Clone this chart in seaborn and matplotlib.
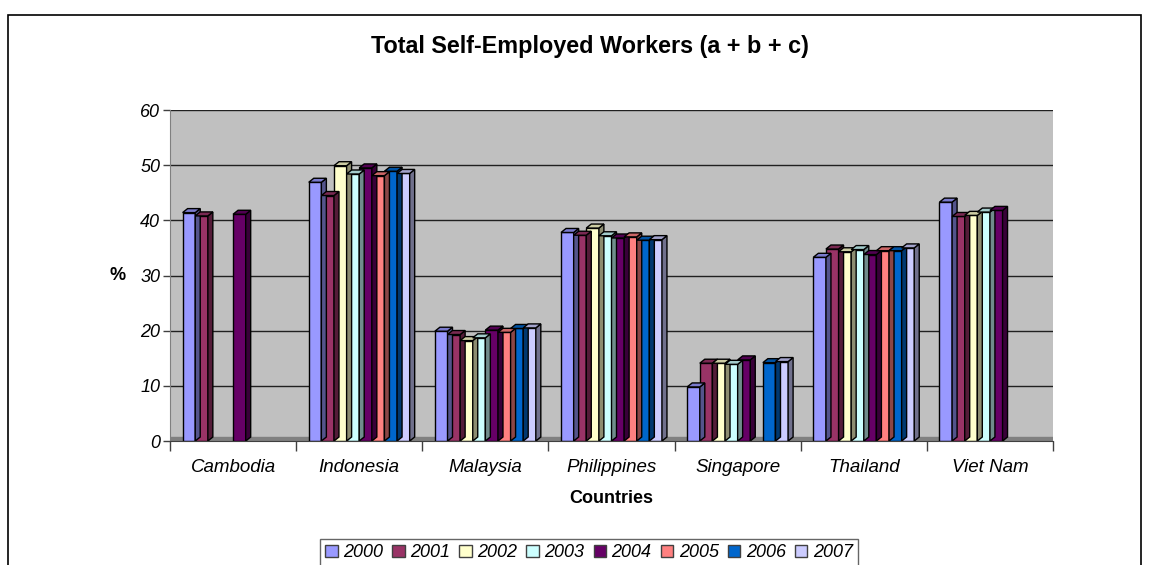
import numpy as np
import pandas as pd
import matplotlib
matplotlib.use("Agg")
import matplotlib.pyplot as plt
import matplotlib.colors as mcolors
from matplotlib.patches import Polygon, Rectangle
import seaborn as sns

countries = ["Cambodia", "Indonesia", "Malaysia", "Philippines", "Singapore", "Thailand", "Viet Nam"]
years = ["2000", "2001", "2002", "2003", "2004", "2005", "2006", "2007"]
nan = np.nan
y2000 = [41.4, 46.9, 19.9, 37.8, 9.8, 33.3, 43.3]
y2001 = [40.8, 44.5, 19.3, 37.3, 14.1, 34.8, 40.7]
y2002 = [nan, 49.9, 18.2, 38.6, 14.1, 34.3, 40.9]
y2003 = [nan, 48.4, 18.7, 37.2, 13.9, 34.7, 41.5]
y2004 = [41.1, 49.5, 20.1, 36.8, 14.7, 33.8, 41.8]
y2005 = [nan, 48.1, 19.7, 37.0, nan, 34.5, nan]
y2006 = [nan, 48.9, 20.4, 36.4, 14.2, 34.5, nan]
y2007 = [nan, 48.5, 20.5, 36.5, 14.4, 35.0, nan]
series = [y2000, y2001, y2002, y2003, y2004, y2005, y2006, y2007]
colors = ["#9999FF", "#993366", "#FFFFCC", "#CCFFFF", "#660066", "#FF8080", "#0066CC", "#CCCCFF"]
yticks = [0, 10, 20, 30, 40, 50, 60]

rows = []
for yr, vals in zip(years, series):
    for c, v in zip(countries, vals):
        rows.append({"Country": c, "Year": yr, "Value": v})
df = pd.DataFrame(rows)

sns.set_style("white")
plt.rcParams["font.family"] = ["Liberation Sans", "DejaVu Sans"]
plt.rcParams["text.color"] = "black"
plt.rcParams["axes.labelcolor"] = "black"
plt.rcParams["xtick.color"] = "black"
plt.rcParams["ytick.color"] = "black"

W, H = 1150, 565
fig = plt.figure(figsize=(W / 100, H / 100), dpi=100)
ax_l, ax_r, ax_b, ax_t = 170, 1053, 441, 110
ax = fig.add_axes([ax_l / W, (H - ax_b) / H, (ax_r - ax_l) / W, (ax_b - ax_t) / H])
ax.set_facecolor("#C0C0C0")

palette = dict(zip(years, colors))
sns.barplot(data=df, x="Country", y="Value", hue="Year", order=countries, hue_order=years,
            palette=palette, width=0.8, gap=0, dodge=True, saturation=1,
            edgecolor="black", linewidth=1, ax=ax, legend=True, err_kws={"linewidth": 0})

ax.set_xlim(-0.5, len(countries) - 0.5)
ax.set_ylim(yticks[0], yticks[-1])

# pseudo-3D faces derived from the bar geometry
px_x = (ax_r - ax_l) / (len(countries))
px_y = (ax_b - ax_t) / (yticks[-1] - yticks[0])
dx = 5.0 / px_x
dy = 4.0 / px_y
bars = [p for p in ax.patches if isinstance(p, Rectangle) and np.isfinite(p.get_height()) and p.get_height() > 0]
for p in bars:
    x0 = p.get_x(); w = p.get_width(); h = p.get_height()
    fc = np.array(mcolors.to_rgb(p.get_facecolor()))
    z = 2 + x0 * 0.01
    p.set_zorder(z)
    side = Polygon([(x0 + w, 0), (x0 + w + dx, dy), (x0 + w + dx, h + dy), (x0 + w, h)],
                   closed=True, facecolor=fc * 0.55, edgecolor="black", linewidth=1, zorder=z + 0.005)
    top = Polygon([(x0, h), (x0 + dx, h + dy), (x0 + w + dx, h + dy), (x0 + w, h)],
                  closed=True, facecolor=fc * 0.8, edgecolor="black", linewidth=1, zorder=z + 0.005)
    ax.add_patch(side)
    ax.add_patch(top)

# floor strip
ax.axhspan(0, dy * 0.9, color="#808080", zorder=1)

ax.set_yticks(yticks)
ax.set_yticklabels([str(t) for t in yticks], fontsize=13, fontstyle="italic")
ax.yaxis.grid(True, color="#202020", linewidth=1)
ax.set_axisbelow(True)
ax.tick_params(axis="y", left=True, length=5, width=1, color="#404040", pad=2)
ax.set_xticks(range(len(countries)))
ax.set_xticklabels(countries, fontsize=13.5, fontstyle="italic")
ax.set_xticks(np.arange(-0.5, len(countries)), minor=True)
ax.tick_params(axis="x", which="major", length=0, pad=13)
ax.tick_params(axis="x", which="minor", length=7, width=1, color="#404040", bottom=True)
for s in ["top", "right"]:
    ax.spines[s].set_visible(False)
ax.spines["left"].set_color("#808080")
ax.spines["bottom"].set_color("#404040")

ax.set_xlabel("Countries", fontsize=13, fontweight="bold", labelpad=10)
ax.set_ylabel("%", fontsize=13, fontweight="bold", rotation=0, labelpad=16, va="center")

fig.text(590 / W, (H - 47) / H, "Total Self-Employed Workers (a + b + c)", ha="center", va="center",
         fontsize=16.8, fontweight="bold")

handles, labels = ax.get_legend_handles_labels()
ax.get_legend().remove()
leg = fig.legend(handles, labels, loc="upper center", bbox_to_anchor=(589 / W, (H - 539) / H),
                 borderaxespad=0, ncol=8, frameon=True, fancybox=False, handlelength=0.7, handleheight=0.7,
                 handletextpad=0.3, columnspacing=0.5, borderpad=0.3, prop={"style": "italic", "size": 13})
leg.get_frame().set_edgecolor("#404040")
leg.get_frame().set_linewidth(1)
for hnd in leg.legend_handles:
    hnd.set_edgecolor("#404040")
    hnd.set_linewidth(1)

fig.patches.append(Rectangle((8 / W, -0.02), (1141 - 8) / W, (H - 15) / H + 0.02, transform=fig.transFigure,
                             fill=False, edgecolor="black", linewidth=1.2))

fig.savefig("out.png", dpi=100)
